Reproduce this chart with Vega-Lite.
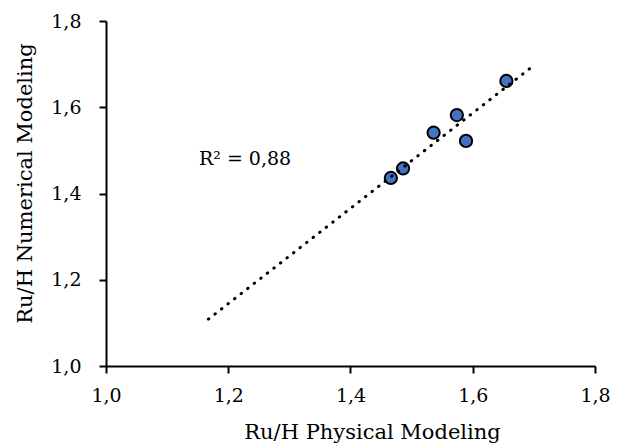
{
  "$schema": "https://vega.github.io/schema/vega-lite/v6.json",
  "width": 489,
  "height": 345,
  "autosize": {"type": "none"},
  "padding": {"left": 106, "top": 21, "right": 28, "bottom": 80},
  "background": "white",
  "config": {
    "view": {"stroke": null},
    "font": "DejaVu Serif",
    "axis": {
      "grid": false,
      "labelFlush": false,
      "labelOverlap": false,
      "domainColor": "black",
      "domainWidth": 2,
      "tickColor": "black",
      "tickWidth": 2,
      "tickSize": 7,
      "labelFont": "DejaVu Serif",
      "labelFontSize": 19,
      "labelColor": "black",
      "titleFont": "DejaVu Serif",
      "titleFontSize": 21,
      "titleFontWeight": "normal",
      "titleColor": "black"
    }
  },
  "datasets": {
    "points": [
      {"physical": 1.655, "numerical": 1.661},
      {"physical": 1.574, "numerical": 1.582},
      {"physical": 1.536, "numerical": 1.541},
      {"physical": 1.589, "numerical": 1.522},
      {"physical": 1.486, "numerical": 1.458},
      {"physical": 1.466, "numerical": 1.436}
    ],
    "trend": [
      {"physical": 1.1675, "numerical": 1.1086},
      {"physical": 1.7022, "numerical": 1.6995}
    ],
    "note": [
      {"physical": 1.2275, "numerical": 1.466, "label": "R² = 0,88"}
    ]
  },
  "layer": [
    {
      "data": {"name": "points"},
      "mark": {"type": "point", "filled": true, "size": 150, "fill": "#4472C4", "stroke": "black", "strokeWidth": 2, "opacity": 1},
      "encoding": {
        "x": {
          "field": "physical", "type": "quantitative",
          "scale": {"domain": [1, 1.8], "nice": false, "zero": false},
          "axis": {
            "values": [1, 1.2, 1.4, 1.6, 1.8],
            "labelExpr": "replace(format(datum.value, '.1f'), '.', ',')",
            "labelPadding": 13,
            "title": "Ru/H Physical Modeling",
            "titleX": 266,
            "titleY": 72,
            "titleAlign": "center",
            "titleBaseline": "alphabetic"
          }
        },
        "y": {
          "field": "numerical", "type": "quantitative",
          "scale": {"domain": [1, 1.8], "nice": false, "zero": false},
          "axis": {
            "values": [1, 1.2, 1.4, 1.6, 1.8],
            "labelExpr": "replace(format(datum.value, '.1f'), '.', ',')",
            "labelPadding": 18,
            "title": "Ru/H Numerical Modeling",
            "titleAngle": -90,
            "titleX": -75,
            "titleY": 162,
            "titleAlign": "center",
            "titleBaseline": "alphabetic"
          }
        }
      }
    },
    {
      "data": {"name": "trend"},
      "mark": {"type": "line", "color": "black", "strokeWidth": 3, "strokeCap": "round", "strokeDash": [0.5, 7.8]},
      "encoding": {
        "x": {"field": "physical", "type": "quantitative"},
        "y": {"field": "numerical", "type": "quantitative"}
      }
    },
    {
      "data": {"name": "note"},
      "mark": {"type": "text", "fontSize": 19, "color": "black", "align": "center", "baseline": "alphabetic", "font": "DejaVu Serif"},
      "encoding": {
        "x": {"field": "physical", "type": "quantitative"},
        "y": {"field": "numerical", "type": "quantitative"},
        "text": {"field": "label"}
      }
    }
  ]
}
